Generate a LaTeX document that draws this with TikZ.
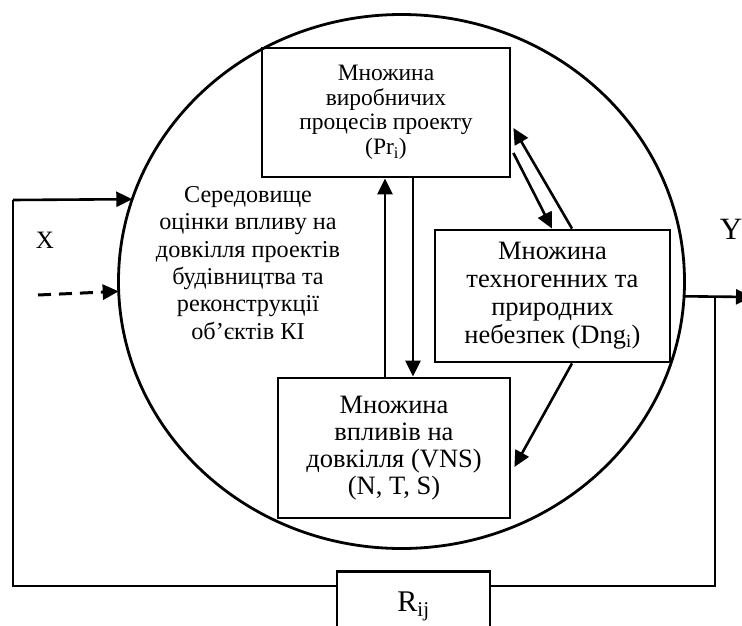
\documentclass[tikz,border=0pt]{standalone}
\usepackage{fontspec}
\setmainfont{Liberation Serif}
\usetikzlibrary{arrows.meta,shapes.geometric}
\begin{document}
\begin{tikzpicture}[x=1pt,y=-1pt,
  setbox/.style={draw, line width=2.8pt, align=center, inner sep=0pt},
  conn/.style={line width=2.6pt, -{Triangle[length=16pt,width=15pt]}},
  feed/.style={line width=1.4pt},
  lbl/.style={inner sep=0pt, font=\fontsize{25}{28}\selectfont}
]
\useasboundingbox (0,0) rectangle (742,626);

% environment ellipse
\node[draw, ellipse, line width=2.8pt, inner sep=0pt, outer sep=0pt,
  minimum width=566pt, minimum height=534pt] (env) at (401.5,281.5) {};

\node[lbl, align=center, font=\fontsize{24.2}{27.3}\selectfont] (envtext) at (248,263)
  {Середовище\\оцінки впливу на\\довкілля проектів\\будівництва та\\реконструкції\\об’єктів КІ};

% inner sets
\node[setbox, minimum width=248pt, minimum height=129pt,
  font=\fontsize{23.5}{24.5}\selectfont] (pr) at (386,112.5)
  {Множина\\виробничих\\процесів проекту\\(Pr\textsubscript{i})};
\node[setbox, minimum width=235pt, minimum height=132pt,
  font=\fontsize{26.5}{28}\selectfont] (dng) at (552.5,296)
  {Множина\\техногенних та\\природних\\небезпек (Dng\textsubscript{i})};
\node[setbox, minimum width=232pt, minimum height=140pt,
  font=\fontsize{26.5}{27}\selectfont] (vns) at (394,448)
  {Множина\\впливів на\\довкілля (VNS)\\(N, T, S)};

% feedback block
\node[draw, line width=2.8pt, anchor=north, minimum width=153pt,
  inner ysep=20pt, text height=20pt, text depth=60pt,
  font=\fontsize{30}{32}\selectfont] (rij) at (413.5,570) {R\textsubscript{ij}};

% links between the sets
\draw[conn] ([xshift=-9pt]vns.north) -- ([xshift=-1pt]pr.south);
\draw[conn] ([xshift=27pt]pr.south) -- ([xshift=19pt]vns.north);
\draw[conn] ([xshift=19.5pt]dng.north) -- ([xshift=2pt,yshift=-15.5pt]pr.east);
\draw[conn] ([xshift=2pt,yshift=-40.5pt]pr.east) -- ([xshift=-0.5pt]dng.north);
\draw[conn] ([xshift=19.5pt]dng.south) -- ([xshift=3pt,yshift=-19pt]vns.east);

% inputs, output and feedback loop
\coordinate (fbl) at (13,200);
\coordinate (xin) at (38,295);
\coordinate (ybr) at (715,297);
\coordinate (yend) at (752,297);

\draw[feed] ([yshift=-16pt]rij.north west) -| (fbl);
\draw[conn] (fbl) -- (env.163.2);
\draw[conn, line width=3pt, dash pattern=on 13pt off 8pt] (xin) -- (env.182.8);
\draw[conn] (env.-3.1) -- (yend);
\draw[feed] (ybr) |- ([yshift=-16pt]rij.north east);

\node[lbl] (xlabel) at (45,240) {X};
\node[lbl, font=\fontsize{31}{33}\selectfont] (ylabel) at (731,229) {Y};
\end{tikzpicture}
\end{document}
